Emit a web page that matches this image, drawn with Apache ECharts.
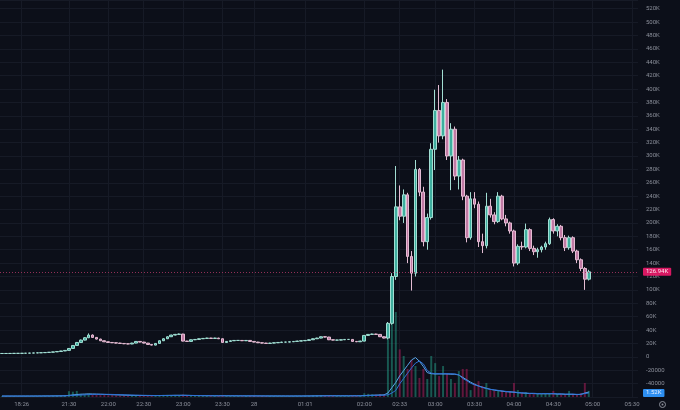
<!DOCTYPE html>
<html>
<head>
<meta charset="utf-8">
<title>Price chart</title>
<script src="https://cdn.jsdelivr.net/npm/echarts@6/dist/echarts.min.js"></script>
<style>
    html, body { margin: 0; padding: 0; background: #0c0f19; }
    #chart { width: 680px; height: 410px; }
</style>
</head>
<body>
<div id="chart"></div>
<script>
// 3-minute bars on a category axis, time labels only on some slots
var barCount = 162;
var tickSlots = [5, 17, 27, 36, 46, 56, 64, 77, 92, 101, 110, 120, 130, 140, 150, 160];
var tickLabels = ['18:26', '21:30', '22:00', '22:30', '23:00', '23:30', '28', '01:01',
    '02:00', '02:33', '03:00', '03:30', '04:00', '04:30', '05:00', '05:30'];

// candles: [open, close, low, high], in K
var calmCandles = [
    [5.0, 5.0, 4.8, 5.2], [5.0, 5.0, 4.8, 5.2], [5.0, 5.1, 4.9, 5.3], [5.1, 5.2, 5.0, 5.4],
    [5.2, 5.2, 5.0, 5.4], [5.2, 5.3, 5.1, 5.5], [5.3, 5.5, 5.2, 5.7], [5.5, 5.6, 5.3, 5.8],
    [5.6, 5.8, 5.4, 6.0], [5.8, 6.0, 5.6, 6.2], [6.0, 6.2, 5.8, 6.4], [6.2, 6.5, 6.0, 6.7],
    [6.5, 6.9, 6.3, 7.1], [6.9, 7.4, 6.7, 7.6], [7.4, 8.0, 7.2, 8.2], [8.0, 8.8, 7.8, 9.0],
    [8.8, 9.6, 8.6, 9.9], [9.6, 12.5, 9.4, 13.0], [12.5, 17.0, 12.2, 17.6], [17.0, 21.5, 16.6, 22.2],
    [21.5, 25.0, 21.0, 25.8], [25.0, 28.5, 24.6, 29.5], [28.5, 32.5, 28.0, 35.0], [32.5, 29.0, 28.4, 33.5],
    [29.0, 26.5, 26.0, 29.5], [26.5, 24.0, 23.6, 27.0], [24.0, 22.5, 22.0, 24.4], [22.5, 21.5, 21.0, 23.0],
    [21.5, 21.0, 20.6, 22.0], [21.0, 20.5, 20.0, 21.4], [20.5, 20.0, 19.6, 21.0], [20.0, 19.5, 19.0, 20.4],
    [19.5, 19.2, 18.8, 20.0], [19.2, 20.5, 18.9, 21.0], [20.5, 23.0, 20.2, 23.6], [23.0, 22.0, 21.6, 23.4],
    [22.0, 20.5, 20.0, 22.4], [20.5, 18.5, 18.0, 20.8], [18.5, 17.5, 17.0, 19.0], [17.5, 20.0, 17.2, 20.5],
    [20.0, 24.0, 19.6, 24.5], [24.0, 27.0, 23.6, 27.6], [27.0, 30.0, 26.6, 30.6], [30.0, 32.5, 29.6, 33.0],
    [32.5, 33.5, 32.0, 34.2], [33.5, 34.0, 33.0, 34.8], [34.0, 23.5, 23.0, 34.4], [23.5, 23.0, 22.4, 24.0],
    [23.0, 25.5, 22.6, 26.0], [25.5, 26.0, 25.0, 26.5], [26.0, 27.0, 25.6, 27.5], [27.0, 27.5, 26.6, 28.0],
    [27.5, 28.0, 27.0, 28.5], [28.0, 27.5, 27.0, 28.4], [27.5, 28.0, 27.0, 28.5], [28.0, 27.0, 26.6, 28.4],
    [27.0, 21.5, 21.0, 27.4], [21.5, 23.0, 21.2, 23.5], [23.0, 24.0, 22.6, 24.5], [24.0, 24.5, 23.6, 25.0],
    [24.5, 24.5, 24.0, 25.0], [24.5, 24.0, 23.6, 24.9], [24.0, 24.5, 23.6, 25.0], [24.5, 23.0, 22.6, 24.8],
    [23.0, 22.0, 21.6, 23.4], [22.0, 21.0, 20.6, 22.4], [21.0, 20.5, 20.0, 21.4], [20.5, 20.0, 19.6, 20.9],
    [20.0, 20.5, 19.6, 21.0], [20.5, 21.0, 20.1, 21.5], [21.0, 21.5, 20.6, 22.0], [21.5, 22.0, 21.1, 22.5],
    [22.0, 22.0, 21.6, 22.4], [22.0, 22.5, 21.6, 23.0], [22.5, 23.0, 22.1, 23.5], [23.0, 23.5, 22.6, 24.0],
    [23.5, 24.0, 23.1, 24.5], [24.0, 24.5, 23.6, 25.0], [24.5, 25.5, 24.1, 26.0], [25.5, 27.0, 25.1, 27.5],
    [27.0, 28.0, 26.6, 28.5], [28.0, 30.0, 27.6, 30.6], [30.0, 29.5, 29.0, 30.5], [29.5, 25.5, 25.0, 29.9],
    [25.5, 25.0, 24.6, 26.0], [25.0, 25.0, 24.6, 25.4], [25.0, 25.5, 24.6, 26.0], [25.5, 26.0, 25.1, 26.5],
    [26.0, 26.0, 25.6, 26.5], [26.0, 23.0, 22.6, 26.4], [23.0, 22.5, 22.0, 23.4], [22.5, 23.5, 22.1, 24.0],
    [23.5, 32.0, 23.1, 32.6], [32.0, 33.5, 31.6, 34.0], [33.5, 34.0, 33.0, 34.6], [34.0, 33.5, 33.0, 34.5],
    [33.5, 30.0, 29.6, 34.0], [30.0, 28.0, 27.6, 30.4]
];
var pumpCandles = [
    [28, 50, 26, 52], [50, 120, 48, 125], [120, 224, 115, 285], [224, 210, 204, 256],
    [210, 242, 200, 250], [242, 150, 140, 245], [150, 125, 99, 158], [125, 280, 120, 294],
    [280, 246, 240, 282], [246, 172, 165, 254], [172, 208, 160, 214], [208, 310, 205, 319],
    [310, 368, 279, 399], [368, 330, 320, 406], [330, 380, 325, 429], [380, 300, 294, 385],
    [300, 340, 249, 349], [340, 270, 264, 344], [270, 294, 250, 300], [294, 240, 234, 296],
    [240, 178, 171, 242], [178, 236, 175, 246], [236, 228, 222, 246], [228, 172, 164, 232],
    [172, 166, 155, 184], [166, 225, 162, 245], [225, 212, 208, 236], [212, 202, 198, 216],
    [202, 240, 200, 246], [240, 206, 204, 242], [206, 200, 195, 212], [200, 188, 184, 202],
    [188, 140, 135, 190], [140, 165, 137, 168], [165, 164, 160, 172], [164, 190, 162, 199],
    [190, 162, 158, 192], [162, 157, 152, 166], [157, 160, 148, 163], [160, 164, 156, 166],
    [164, 169, 160, 172], [169, 205, 167, 208], [205, 188, 184, 207], [188, 195, 180, 198],
    [195, 178, 174, 197], [178, 163, 158, 182], [163, 178, 160, 181], [178, 158, 155, 180],
    [158, 145, 140, 160], [145, 132, 128, 147], [132, 116, 100, 134], [116, 126.94, 114, 130]
];

// volume in K
var calmVolume = [
    0.3, 0.3, 0.3, 0.4, 0.3, 0.3, 0.4, 0.3, 0.4, 0.4,
    0.4, 0.5, 0.4, 0.5, 0.5, 0.6, 0.7, 2.2, 2.0, 2.3,
    1.2, 1.1, 1.3, 0.9, 0.8, 0.7, 0.8, 0.6, 0.7, 0.6,
    0.5, 0.5, 0.4, 0.6, 0.7, 0.5, 0.5, 0.4, 0.5, 0.6,
    0.7, 0.8, 0.8, 0.7, 0.8, 0.6, 0.9, 0.5, 0.5, 0.4,
    0.5, 0.4, 0.4, 0.5, 0.4, 0.4, 0.7, 0.5, 0.4, 0.4,
    0.4, 0.3, 0.4, 0.4, 0.4, 0.3, 0.4, 0.3, 0.4, 0.4,
    0.4, 0.4, 0.3, 0.4, 0.4, 0.4, 0.4, 0.5, 0.5, 0.6,
    0.6, 0.7, 0.5, 0.7, 0.4, 0.4, 0.4, 0.5, 0.4, 0.6,
    0.5, 0.5, 1.4, 1.2, 1.0, 0.9, 1.1, 1.0
];
var pumpVolume = [
    21.8, 35.9, 32.1, 18.0, 15.5, 10.6, 14.0, 11.7, 7.2, 10.6,
    6.8, 15.5, 12.8, 7.9, 11.7, 8.7, 6.8, 5.3, 9.8, 10.6,
    10.6, 2.6, 5.3, 6.0, 4.2, 5.3, 2.6, 2.3, 2.6, 2.3,
    1.9, 2.3, 5.3, 2.6, 1.5, 1.9, 1.1, 1.1, 1.1, 1.1,
    1.3, 1.5, 2.3, 1.1, 1.1, 1.1, 2.3, 1.1, 1.1, 1.5,
    5.3, 2.3
];

// the two volume averages as drawn, in K
var calmMaFast = [
    0.35, 0.35, 0.35, 0.35, 0.35, 0.35, 0.36, 0.36, 0.37, 0.37,
    0.38, 0.39, 0.40, 0.41, 0.42, 0.44, 0.47, 0.62, 0.78, 0.95,
    1.05, 1.12, 1.18, 1.15, 1.10, 1.05, 0.98, 0.92, 0.86, 0.80,
    0.75, 0.70, 0.66, 0.62, 0.60, 0.58, 0.56, 0.54, 0.53, 0.54,
    0.56, 0.58, 0.60, 0.62, 0.64, 0.64, 0.66, 0.62, 0.58, 0.55,
    0.52, 0.50, 0.48, 0.47, 0.46, 0.45, 0.47, 0.46, 0.45, 0.44,
    0.43, 0.42, 0.41, 0.41, 0.40, 0.40, 0.39, 0.38, 0.38, 0.38,
    0.38, 0.38, 0.37, 0.37, 0.37, 0.38, 0.38, 0.39, 0.40, 0.42,
    0.44, 0.46, 0.47, 0.48, 0.47, 0.46, 0.45, 0.45, 0.44, 0.45,
    0.46, 0.46, 0.55, 0.62, 0.68, 0.72, 0.76, 0.80
];
var pumpMaFast = [
    1.5, 3.5, 5.5, 8.0, 10.0, 12.0, 14.0, 14.9, 13.5, 11.5,
    9.2, 8.8, 8.7, 8.7, 8.7, 8.7, 8.6, 8.6, 8.3, 7.4,
    6.5, 5.6, 4.8, 4.2, 3.7, 3.3, 2.9, 2.6, 2.4, 2.2,
    2.0, 1.9, 1.8, 1.6, 1.5, 1.4, 1.3, 1.3, 1.2, 1.2,
    1.2, 1.2, 1.2, 1.1, 1.1, 1.0, 1.0, 1.0, 0.9, 1.0,
    1.5, 1.85
];
var calmMaSlow = [
    0.35, 0.35, 0.35, 0.35, 0.35, 0.35, 0.35, 0.35, 0.36, 0.36,
    0.37, 0.37, 0.38, 0.39, 0.40, 0.41, 0.43, 0.50, 0.58, 0.66,
    0.74, 0.82, 0.90, 0.96, 1.00, 1.02, 1.02, 1.00, 0.97, 0.93,
    0.88, 0.83, 0.78, 0.73, 0.69, 0.66, 0.63, 0.60, 0.58, 0.56,
    0.55, 0.56, 0.57, 0.58, 0.60, 0.61, 0.62, 0.61, 0.59, 0.57,
    0.55, 0.53, 0.51, 0.50, 0.49, 0.48, 0.48, 0.47, 0.47, 0.46,
    0.45, 0.44, 0.43, 0.43, 0.42, 0.42, 0.41, 0.40, 0.40, 0.39,
    0.39, 0.39, 0.38, 0.38, 0.38, 0.38, 0.38, 0.38, 0.39, 0.40,
    0.41, 0.42, 0.43, 0.44, 0.45, 0.45, 0.45, 0.45, 0.45, 0.45,
    0.45, 0.45, 0.50, 0.54, 0.58, 0.62, 0.65, 0.68
];
var pumpMaSlow = [
    0.8, 1.5, 2.5, 5.0, 7.0, 9.0, 11.0, 12.8, 13.6, 12.5,
    10.0, 9.0, 8.8, 8.8, 8.8, 8.8, 8.8, 8.7, 8.4, 7.0,
    6.2, 5.2, 4.6, 4.1, 3.6, 3.2, 2.9, 2.7, 2.5, 2.3,
    2.1, 2.0, 1.9, 1.7, 1.6, 1.5, 1.4, 1.4, 1.3, 1.3,
    1.3, 1.3, 1.3, 1.2, 1.2, 1.1, 1.1, 1.1, 1.0, 1.0,
    1.3, 1.52
];

var lastPrice = 126.94;
var lastVolMa = 1.52;

var categories = [];
for (var i = 0; i < barCount; i++) {
    categories.push('');
}
tickSlots.forEach(function (slot, k) {
    categories[slot] = tickLabels[k];
});

var candles = calmCandles.concat(pumpCandles);
var volumes = calmVolume.concat(pumpVolume);
var maFast = calmMaFast.concat(pumpMaFast);
var maSlow = calmMaSlow.concat(pumpMaSlow);

var textColor = '#8b8f9a';
var gridColor = '#161a26';

function isLabelSlot(index, value) {
    return value !== '';
}

var myChart = echarts.init(document.getElementById('chart'));
var option = {
    backgroundColor: '#0c0f19',
    animation: false,
    textStyle: { fontFamily: 'Roboto' },
    grid: {
        left: 0,
        right: 42,
        top: 0,
        bottom: 13,
        containLabel: false,
        outerBoundsMode: 'none'
    },
    xAxis: {
        type: 'category',
        data: categories,
        boundaryGap: true,
        axisLine: { show: false },
        axisTick: { show: false },
        axisLabel: {
            interval: isLabelSlot,
            color: textColor,
            fontSize: 6,
            margin: 4
        },
        splitLine: {
            show: true,
            interval: isLabelSlot,
            alignWithLabel: true,
            lineStyle: { color: gridColor, width: 1 }
        }
    },
    yAxis: [{
        type: 'value',
        position: 'right',
        min: -60,
        max: 533,
        interval: 20,
        axisLine: { show: false },
        axisTick: { show: false },
        axisLabel: {
            color: textColor,
            fontSize: 6,
            margin: 8,
            showMinLabel: false,
            showMaxLabel: false,
            formatter: function (v) {
                if (v === 0) {
                    return '0';
                }
                if (v < 0) {
                    return String(Math.round(v * 1000));
                }
                return v + 'K';
            }
        },
        splitLine: { lineStyle: { color: gridColor, width: 1 } }
    }, {
        // volume pane shares the plot, scaled down to the bottom
        type: 'value',
        show: false,
        min: 0,
        max: 150
    }],
    series: [{
        name: 'volume',
        type: 'bar',
        yAxisIndex: 1,
        data: volumes,
        barWidth: '50%',
        z: 2,
        itemStyle: {
            color: function (p) {
                var c = candles[p.dataIndex];
                return c[1] >= c[0] ? 'rgba(34,150,128,0.55)' : 'rgba(170,30,90,0.55)';
            }
        }
    }, {
        name: 'price',
        type: 'candlestick',
        data: candles,
        barWidth: '82%',
        z: 3,
        itemStyle: {
            color: '#3fae9f',
            color0: '#c07aa4',
            borderColor: '#a2ded3',
            borderColor0: '#e4bcd3',
            borderWidth: 1
        },
        markLine: {
            silent: true,
            symbol: ['none', 'none'],
            data: [{ yAxis: lastPrice }],
            lineStyle: { color: '#a0335e', type: [1, 2], width: 1, opacity: 0.9 },
            label: {
                position: 'end',
                distance: 5,
                formatter: lastPrice.toFixed(2) + 'K',
                color: '#ffffff',
                backgroundColor: '#ee1a6a',
                fontSize: 6,
                padding: [1, 3],
                borderRadius: 1
            }
        }
    }, {
        name: 'vol ma fast',
        type: 'line',
        yAxisIndex: 1,
        data: maFast,
        showSymbol: false,
        z: 4,
        lineStyle: { color: '#5aa7ec', width: 1 }
    }, {
        name: 'vol ma slow',
        type: 'line',
        yAxisIndex: 1,
        data: maSlow,
        showSymbol: false,
        z: 4,
        lineStyle: { color: '#2f72d6', width: 1 },
        markLine: {
            silent: true,
            symbol: ['none', 'none'],
            data: [{ yAxis: lastVolMa }],
            lineStyle: { color: 'rgba(0,0,0,0)', width: 0 },
            label: {
                show: true,
                position: 'end',
                distance: 5,
                formatter: lastVolMa.toFixed(2) + 'K',
                color: '#e6f0ff',
                backgroundColor: '#2d8ef0',
                fontSize: 6,
                padding: [1, 3],
                borderRadius: 1
            }
        }
    }],
    graphic: [{
        type: 'circle',
        shape: { cx: 662.5, cy: 404.5, r: 3 },
        style: { fill: 'none', stroke: textColor, lineWidth: 1 }
    }, {
        type: 'circle',
        shape: { cx: 662.5, cy: 404.5, r: 1 },
        style: { fill: textColor }
    }]
};
myChart.setOption(option);
</script>
</body>
</html>
